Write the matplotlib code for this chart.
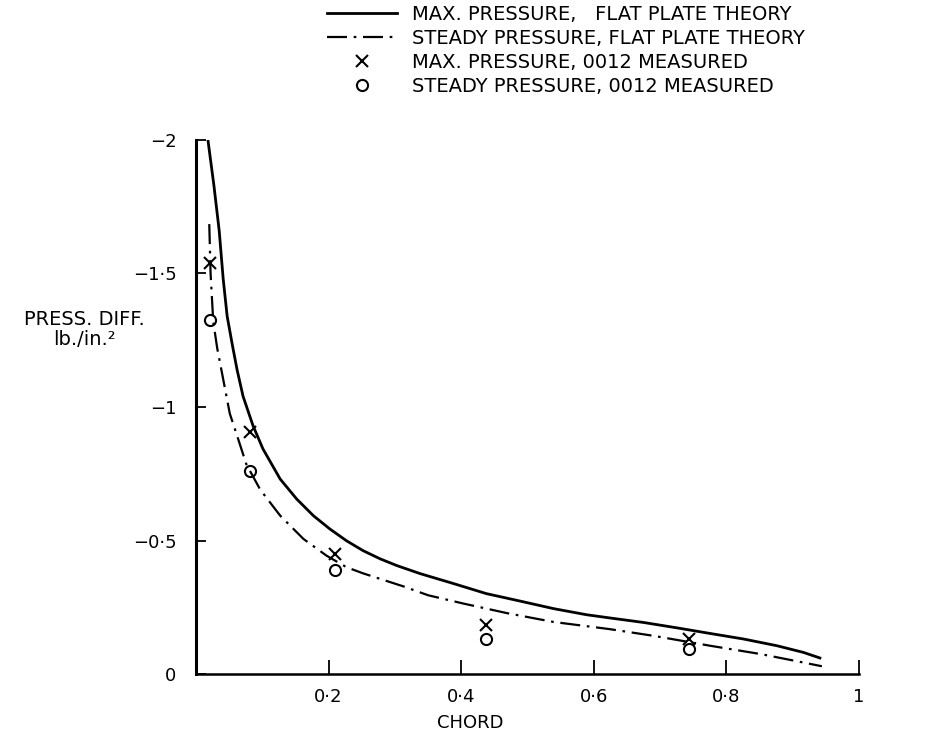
import matplotlib
matplotlib.use("Agg")
import matplotlib.pyplot as plt

# Flat plate theory curves
chord_max = [0.018, 0.027, 0.035, 0.041, 0.047, 0.055, 0.062, 0.071, 0.086, 0.101, 0.127,
             0.152, 0.177, 0.202, 0.227, 0.252, 0.278, 0.303, 0.338, 0.388, 0.438,
             0.489, 0.539, 0.589, 0.624, 0.675, 0.725, 0.775, 0.826, 0.876, 0.916, 0.941]
max_theory = [-2.0, -1.83, -1.66, -1.48, -1.34, -1.23, -1.139, -1.04, -0.93, -0.843, -0.73,
              -0.655, -0.593, -0.543, -0.499, -0.462, -0.431, -0.406, -0.376, -0.339, -0.301,
              -0.273, -0.245, -0.222, -0.21, -0.193, -0.173, -0.152, -0.131, -0.106, -0.081, -0.060]

chord_steady = [0.020, 0.022, 0.026, 0.032, 0.039, 0.051, 0.061, 0.076, 0.097, 0.127,
                0.162, 0.197, 0.227, 0.252, 0.278, 0.313, 0.350, 0.403, 0.469, 0.539,
                0.599, 0.624, 0.690, 0.775, 0.851, 0.906, 0.944]
steady_theory = [-1.685, -1.5, -1.32, -1.22, -1.13, -0.975, -0.9, -0.785, -0.69, -0.593,
                 -0.506, -0.443, -0.400, -0.377, -0.356, -0.328, -0.295, -0.264, -0.228, -0.195,
                 -0.176, -0.168, -0.143, -0.106, -0.075, -0.048, -0.029]

# Measured values, NACA 0012
chord_meas = [0.021, 0.081, 0.210, 0.438, 0.744]
max_meas = [-1.54, -0.906, -0.449, -0.182, -0.131]
steady_meas = [-1.326, -0.761, -0.391, -0.130, -0.094]

x_ticks = [0.2, 0.4, 0.6, 0.8, 1.0]
x_labels = ["0·2", "0·4", "0·6", "0·8", "1"]
y_ticks = [0, -0.5, -1, -1.5, -2]
y_labels = ["0", "−0·5", "−1", "−1·5", "−2"]

plt.rcParams['font.family'] = ['DejaVu Sans']

fig = plt.figure(figsize=(9.39, 7.37), dpi=100)
ax = fig.add_axes([196 / 939, 1 - 674 / 737, 663 / 939, 534 / 737])

ax.plot(chord_max, max_theory, color='black', lw=2.0,
        label="MAX. PRESSURE,   FLAT PLATE THEORY")
ax.plot(chord_steady, steady_theory, color='black', lw=1.6,
        linestyle=(0, (9, 3, 1.2, 3)),
        label="STEADY PRESSURE, FLAT PLATE THEORY")
ax.plot(chord_meas, max_meas, linestyle='none', marker='x', color='black',
        markersize=8, markeredgewidth=1.5, label="MAX. PRESSURE, 0012 MEASURED")
ax.plot(chord_meas, steady_meas, linestyle='none', marker='o', color='black',
        markerfacecolor='none', markersize=8, markeredgewidth=1.5,
        label="STEADY PRESSURE, 0012 MEASURED")

ax.set_xlim(0, 1)
ax.set_ylim(0, -2)

for side in ['top', 'right']:
    ax.spines[side].set_visible(False)
ax.spines['left'].set_linewidth(2.2)
ax.spines['bottom'].set_linewidth(1.8)

ax.set_xticks(x_ticks)
ax.set_xticklabels(x_labels, fontsize=13)
ax.set_yticks(y_ticks)
ax.set_yticklabels(y_labels, fontsize=13)
ax.tick_params(axis='x', direction='in', length=10, width=1.3, pad=10)
ax.tick_params(axis='y', direction='in', length=7, width=1.3, pad=14)

ax.set_xlabel("CHORD", fontsize=13)
ax.xaxis.set_label_coords(0.413, -0.075)
ax.set_ylabel("PRESS. DIFF.\nlb./in.²", fontsize=14, rotation=0,
              ha='center', va='center', linespacing=1.1)
ax.yaxis.set_label_coords(-0.168, 0.645)

fig.legend(loc='upper left', bbox_to_anchor=(325 / 939, 1 - 3 / 737), frameon=False,
           fontsize=14, handlelength=3.6, handletextpad=0.75,
           labelspacing=0.26, borderpad=0.1, borderaxespad=0)

fig.savefig("out.png", dpi=100)
